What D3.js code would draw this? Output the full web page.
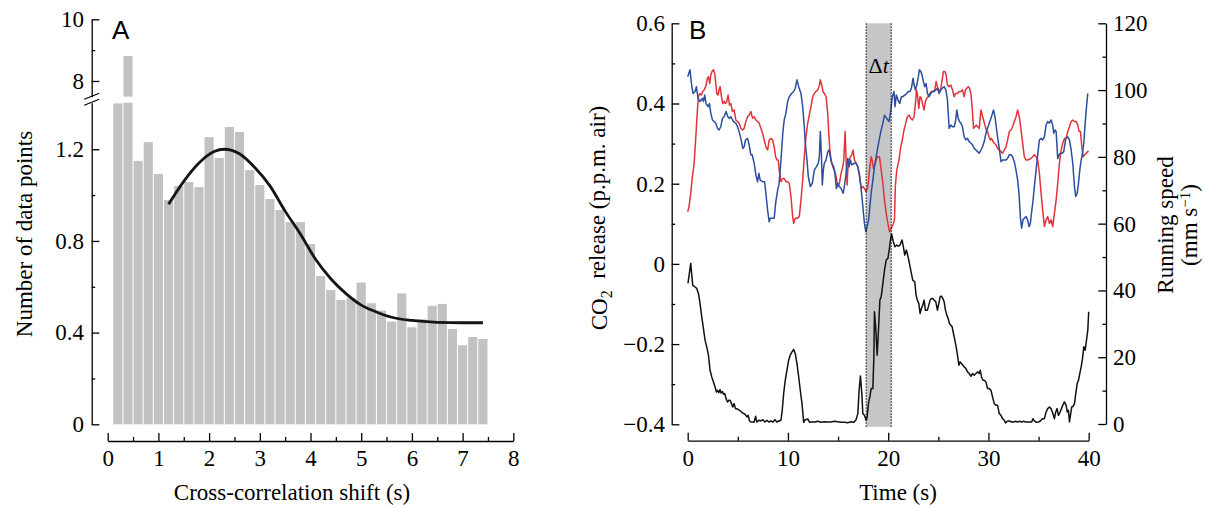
<!DOCTYPE html>
<meta charset="utf-8">
<style>
  body { margin: 0; background: #fff; }
  svg { font-family: "Liberation Serif", "Times New Roman", serif; }
  .axis path, .axis line { stroke: #000; stroke-width: 1.3; }
  .axis text { font-size: 23px; fill: #000; font-family: "Liberation Serif", serif; }
  .title { font-size: 23px; fill: #000; }
  .panel { font-family: "Liberation Sans", Arial, sans-serif; font-size: 26px; }
</style>
<body>
<script src="https://d3js.org/d3.v7.min.js"></script>
<script>

  // ---- panel A: histogram of cross-correlation shifts ----
  const shiftBins = [0.2, 0.4, 0.6, 0.8, 1.0, 1.2, 1.4, 1.6, 1.8, 2.0, 2.2, 2.4, 2.6, 2.8, 3.0, 3.2, 3.4, 3.6, 3.8,
    4.0, 4.2, 4.4, 4.6, 4.8, 5.0, 5.2, 5.4, 5.6, 5.8, 6.0, 6.2, 6.4, 6.6, 6.8, 7.0, 7.2, 7.4];
  const binCounts = [1.40, 8.81, 1.149, 1.231, 1.092, 0.979, 1.040, 1.057, 1.035, 1.253, 1.162, 1.297, 1.275, 1.109,
    1.044, 0.983, 0.935, 0.882, 0.882, 0.786, 0.647, 0.586, 0.542, 0.550, 0.619, 0.528, 0.496, 0.448, 0.571,
    0.423, 0.458, 0.517, 0.525, 0.416, 0.345, 0.381, 0.372];
  const binWidth = 0.2;

  // fitted curve
  const fitShift = [1.2, 1.5, 1.8, 2.1, 2.3, 2.6, 2.9, 3.2, 3.5, 3.8, 4.1, 4.4, 4.7, 5.0, 5.3, 5.6, 6.0, 6.5, 7.0, 7.4];
  const fitCount = [0.96, 1.06, 1.14, 1.19, 1.20, 1.18, 1.12, 1.04, 0.93, 0.83, 0.72, 0.635, 0.57, 0.52, 0.49, 0.467,
    0.453, 0.445, 0.443, 0.443];

  const aTicksLow = [0, 0.4, 0.8, 1.2];
  const aMinorLow = [0.2, 0.6, 1.0];
  const aTicksHigh = [8, 10];
  const aMinorHigh = [9];
  const aTicksX = [0, 1, 2, 3, 4, 5, 6, 7, 8];
  const aMinorX = [0.5, 1.5, 2.5, 3.5, 4.5, 5.5, 6.5, 7.5];

  // ---- panel B: time series ----
  const blueCO2 = [
    [0.00,0.467],[0.23,0.484],[0.37,0.450],[0.53,0.425],[0.73,0.430],[0.87,0.442],[1.03,0.413],[1.23,0.405],[1.47,0.413],
    [1.57,0.405],[1.70,0.421],[1.83,0.400],[2.03,0.392],[2.17,0.400],[2.30,0.376],[2.47,0.359],[2.63,0.355],[2.80,0.351],
    [2.97,0.338],[3.13,0.334],[3.30,0.342],[3.47,0.363],[3.63,0.367],[3.83,0.380],[4.00,0.367],[4.17,0.363],[4.30,0.367],
    [4.57,0.355],[4.80,0.351],[4.97,0.342],[5.13,0.330],[5.30,0.313],[5.50,0.288],[5.63,0.292],[5.77,0.309],[5.97,0.313],
    [6.13,0.297],[6.30,0.272],[6.43,0.272],[6.63,0.251],[6.80,0.222],[6.97,0.205],[7.10,0.226],[7.23,0.209],[7.47,0.205],
    [7.67,0.205],[7.80,0.176],[7.97,0.134],[8.13,0.105],[8.23,0.114],[8.63,0.114],[8.77,0.151],[8.97,0.184],[9.10,0.197],
    [9.23,0.234],[9.37,0.284],[9.50,0.330],[9.63,0.359],[9.80,0.376],[9.97,0.405],[10.13,0.417],[10.37,0.425],[10.57,0.430],
    [10.73,0.438],[10.90,0.459],[11.07,0.442],[11.30,0.425],[11.47,0.392],[11.63,0.342],[11.73,0.301],[11.90,0.259],
    [12.03,0.218],[12.23,0.193],[12.43,0.201],[12.63,0.234],[12.83,0.242],[13.03,0.251],[13.13,0.267],[13.23,0.330],
    [13.33,0.276],[13.43,0.197],[13.53,0.234],[13.63,0.251],[13.80,0.259],[13.97,0.280],[14.10,0.284],[14.23,0.267],
    [14.37,0.251],[14.57,0.242],[14.70,0.222],[14.83,0.188],[14.97,0.201],[15.13,0.193],[15.30,0.188],[15.50,0.176],
    [15.63,0.193],[15.80,0.226],[15.97,0.263],[16.10,0.242],[16.23,0.259],[16.37,0.247],[16.63,0.251],[16.80,0.251],
    [16.97,0.242],[17.13,0.222],[17.30,0.188],[17.47,0.143],[17.63,0.101],[17.77,0.080],[17.90,0.093],[18.07,0.114],
    [18.17,0.143],[18.30,0.176],[18.47,0.209],[18.63,0.242],[18.80,0.267],[18.97,0.292],[19.13,0.313],[19.30,0.334],
    [19.47,0.351],[19.63,0.371],[19.85,0.363],[20.08,0.355],[20.25,0.380],[20.41,0.417],[20.58,0.430],[20.68,0.392],
    [20.81,0.421],[20.98,0.409],[21.15,0.400],[21.31,0.417],[21.45,0.417],[21.65,0.421],[21.85,0.425],[22.01,0.430],
    [22.18,0.430],[22.31,0.438],[22.48,0.463],[22.58,0.446],[22.71,0.434],[22.85,0.446],[23.01,0.467],[23.11,0.484],
    [23.25,0.480],[23.38,0.471],[23.51,0.455],[23.65,0.442],[23.78,0.450],[23.91,0.425],[24.08,0.417],[24.25,0.425],
    [24.41,0.430],[24.58,0.430],[24.75,0.434],[24.91,0.438],[25.08,0.425],[25.25,0.434],[25.41,0.438],[25.58,0.442],
    [25.75,0.434],[25.91,0.409],[26.08,0.338],[26.25,0.346],[26.41,0.342],[26.58,0.342],[26.71,0.355],[26.85,0.384],
    [26.98,0.363],[27.11,0.355],[27.25,0.351],[27.41,0.342],[27.58,0.317],[27.75,0.309],[27.91,0.313],[28.08,0.305],
    [28.25,0.301],[28.41,0.297],[28.58,0.288],[28.75,0.284],[28.91,0.280],[29.08,0.276],[29.25,0.284],[29.41,0.292],
    [29.58,0.305],[29.75,0.326],[29.91,0.338],[30.08,0.351],[30.25,0.363],[30.41,0.376],[30.51,0.384],[30.65,0.367],
    [30.78,0.342],[30.91,0.317],[31.08,0.288],[31.25,0.255],[31.41,0.259],[31.58,0.259],[31.75,0.259],[31.91,0.263],
    [32.08,0.272],[32.25,0.272],[32.41,0.267],[32.58,0.255],[32.75,0.234],[32.91,0.209],[33.05,0.176],[33.18,0.118],
    [33.31,0.089],[33.45,0.110],[33.58,0.114],[33.75,0.118],[33.91,0.110],[34.05,0.093],[34.18,0.101],[34.31,0.130],
    [34.45,0.159],[34.58,0.193],[34.75,0.234],[34.91,0.272],[35.08,0.309],[35.25,0.313],[35.41,0.309],[35.58,0.317],
    [35.75,0.346],[35.91,0.355],[36.08,0.351],[36.25,0.359],[36.41,0.346],[36.51,0.326],[36.65,0.334],[36.75,0.330],
    [36.91,0.263],[37.05,0.272],[37.18,0.276],[37.35,0.276],[37.51,0.280],[37.71,0.313],[37.91,0.317],[38.08,0.309],
    [38.25,0.284],[38.41,0.251],[38.58,0.193],[38.71,0.168],[38.85,0.176],[38.98,0.201],[39.11,0.234],[39.25,0.259],
    [39.38,0.276],[39.51,0.301],[39.65,0.351],[39.78,0.392],[39.91,0.425]
  ];

  const redCO2 = [
    [0.00,0.130],[0.13,0.143],[0.30,0.176],[0.47,0.218],[0.63,0.247],[0.73,0.284],[0.87,0.342],[0.97,0.384],[1.07,0.417],
    [1.20,0.425],[1.37,0.421],[1.50,0.430],[1.63,0.434],[1.80,0.442],[1.97,0.463],[2.07,0.467],[2.20,0.450],[2.30,0.471],
    [2.43,0.480],[2.57,0.484],[2.70,0.475],[2.80,0.450],[2.90,0.425],[3.03,0.421],[3.13,0.434],[3.23,0.442],[3.37,0.417],
    [3.50,0.400],[3.63,0.405],[3.77,0.400],[3.90,0.405],[4.03,0.421],[4.17,0.396],[4.30,0.400],[4.47,0.380],[4.63,0.384],
    [4.80,0.359],[4.97,0.355],[5.13,0.351],[5.30,0.338],[5.47,0.334],[5.63,0.338],[5.80,0.355],[5.97,0.367],[6.13,0.371],
    [6.30,0.380],[6.47,0.363],[6.63,0.367],[6.80,0.359],[6.97,0.355],[7.13,0.351],[7.30,0.338],[7.47,0.326],[7.63,0.309],
    [7.80,0.292],[7.97,0.284],[8.13,0.309],[8.30,0.313],[8.47,0.309],[8.63,0.292],[8.77,0.267],[8.90,0.259],[9.03,0.259],
    [9.13,0.234],[9.30,0.205],[9.47,0.213],[9.63,0.213],[9.80,0.205],[9.97,0.205],[10.13,0.201],[10.30,0.168],[10.47,0.118],
    [10.57,0.101],[10.73,0.114],[10.97,0.114],[11.13,0.118],[11.30,0.159],[11.47,0.209],[11.63,0.267],[11.80,0.317],
    [11.97,0.351],[12.13,0.371],[12.30,0.392],[12.47,0.417],[12.63,0.425],[12.80,0.430],[12.97,0.434],[13.10,0.442],
    [13.23,0.459],[13.37,0.446],[13.50,0.430],[13.63,0.425],[13.80,0.417],[13.97,0.376],[14.07,0.326],[14.17,0.288],
    [14.30,0.259],[14.47,0.242],[14.63,0.234],[14.80,0.218],[14.97,0.193],[15.13,0.201],[15.30,0.226],[15.47,0.242],
    [15.57,0.259],[15.70,0.330],[15.80,0.259],[15.90,0.197],[15.97,0.234],[16.10,0.259],[16.23,0.267],[16.37,0.272],
    [16.50,0.284],[16.63,0.259],[16.80,0.251],[16.97,0.242],[17.13,0.222],[17.30,0.188],[17.47,0.193],[17.63,0.188],
    [17.80,0.180],[17.97,0.193],[18.13,0.234],[18.30,0.267],[18.40,0.259],[18.53,0.238],[18.70,0.251],[18.83,0.263],
    [18.97,0.267],[19.13,0.267],[19.30,0.234],[19.47,0.201],[19.63,0.159],[19.80,0.126],[19.97,0.101],[20.13,0.080],
    [20.30,0.089],[20.47,0.097],[20.63,0.110],[20.71,0.193],[20.85,0.234],[21.08,0.259],[21.25,0.292],[21.41,0.309],
    [21.58,0.334],[21.75,0.351],[21.91,0.367],[22.08,0.371],[22.25,0.363],[22.41,0.359],[22.58,0.367],[22.75,0.409],
    [22.81,0.434],[22.91,0.425],[23.05,0.388],[23.18,0.417],[23.31,0.413],[23.45,0.396],[23.58,0.384],[23.71,0.405],
    [23.85,0.413],[23.98,0.417],[24.15,0.425],[24.31,0.430],[24.48,0.430],[24.65,0.434],[24.78,0.455],[24.91,0.442],
    [25.08,0.430],[25.25,0.438],[25.41,0.463],[25.51,0.480],[25.65,0.480],[25.78,0.471],[25.91,0.446],[26.08,0.442],
    [26.25,0.446],[26.41,0.434],[26.58,0.417],[26.71,0.425],[26.91,0.425],[27.08,0.430],[27.25,0.430],[27.41,0.434],
    [27.58,0.417],[27.71,0.434],[27.85,0.438],[27.98,0.442],[28.11,0.438],[28.25,0.425],[28.38,0.388],[28.51,0.338],
    [28.65,0.342],[28.78,0.346],[28.91,0.342],[29.08,0.338],[29.25,0.384],[29.38,0.371],[29.51,0.359],[29.65,0.346],
    [29.78,0.334],[29.91,0.330],[30.05,0.317],[30.18,0.309],[30.31,0.313],[30.45,0.305],[30.58,0.301],[30.75,0.297],
    [30.91,0.288],[31.08,0.284],[31.25,0.280],[31.41,0.276],[31.58,0.284],[31.75,0.292],[31.91,0.309],[32.08,0.330],
    [32.25,0.334],[32.41,0.342],[32.58,0.355],[32.75,0.367],[32.91,0.384],[33.08,0.367],[33.25,0.334],[33.41,0.301],
    [33.58,0.267],[33.75,0.259],[33.91,0.259],[34.08,0.261],[34.25,0.263],[34.41,0.267],[34.58,0.272],[34.75,0.267],
    [34.91,0.259],[35.08,0.226],[35.25,0.176],[35.41,0.134],[35.58,0.093],[35.75,0.110],[35.91,0.118],[36.08,0.101],
    [36.25,0.110],[36.41,0.093],[36.58,0.126],[36.75,0.159],[36.91,0.201],[37.08,0.251],[37.25,0.284],[37.41,0.301],
    [37.58,0.313],[37.75,0.313],[37.91,0.330],[38.08,0.342],[38.25,0.355],[38.41,0.359],[38.58,0.355],[38.75,0.355],
    [38.91,0.346],[39.05,0.330],[39.18,0.330],[39.31,0.292],[39.45,0.267],[39.58,0.272],[39.75,0.276],[39.91,0.280],
    [40.00,0.280]
  ];

  const runSpeed = [
    [0.03,42.1],[0.30,48.1],[0.50,41.6],[0.70,41.1],[0.90,40.6],[1.07,39.1],[1.23,36.1],[1.40,32.1],[1.57,28.6],[1.73,25.1],
    [1.90,23.1],[2.07,20.6],[2.23,16.1],[2.40,14.1],[2.57,12.6],[2.73,11.1],[2.87,9.6],[2.97,10.1],[3.10,9.4],[3.23,10.3],
    [3.33,9.3],[3.47,9.7],[3.57,8.9],[3.70,9.1],[3.83,7.6],[3.97,6.6],[4.10,7.1],[4.23,7.1],[4.37,6.1],[4.50,5.1],[4.63,6.1],
    [4.77,4.6],[4.90,4.6],[5.03,4.3],[5.17,4.1],[5.30,3.8],[5.47,3.3],[5.63,3.1],[5.80,2.6],[5.90,2.1],[6.03,2.6],[6.17,0.9],
    [6.30,0.6],[6.47,0.6],[6.63,0.6],[6.77,2.3],[6.90,0.6],[7.10,1.1],[7.30,0.9],[7.50,1.3],[7.70,0.6],[7.90,1.1],[8.10,0.6],
    [8.30,0.9],[8.50,0.6],[8.70,1.3],[8.90,0.6],[9.10,0.9],[9.30,1.1],[9.43,4.1],[9.57,9.1],[9.73,13.1],[9.90,16.1],
    [10.07,19.1],[10.23,20.6],[10.40,21.6],[10.57,22.3],[10.73,21.1],[10.90,18.1],[11.07,14.1],[11.23,10.1],[11.40,6.1],
    [11.57,0.5],[11.73,1.3],[11.97,1.5],[12.17,0.5],[12.43,0.6],[12.70,0.6],[12.97,0.8],[13.30,0.5],[13.63,0.7],[13.97,0.6],
    [14.30,0.6],[14.63,0.8],[14.97,0.7],[15.30,0.5],[15.63,0.5],[15.97,0.4],[16.30,0.7],[16.57,0.5],[16.80,1.3],[16.97,3.1],
    [17.10,10.1],[17.23,14.4],[17.37,9.1],[17.47,3.1],[17.63,2.6],[17.80,1.1],[17.90,2.1],[18.03,6.1],[18.17,8.1],
    [18.30,10.6],[18.47,10.6],[18.57,20.1],[18.63,33.6],[18.77,28.1],[18.90,20.6],[19.03,28.1],[19.17,37.1],[19.30,38.1],
    [19.47,42.1],[19.63,46.1],[19.80,49.1],[19.97,49.6],[20.10,52.1],[20.23,55.1],[20.33,57.0],[20.51,54.6],[20.68,53.1],
    [20.85,53.6],[21.01,53.3],[21.18,53.6],[21.38,55.1],[21.51,53.1],[21.65,50.6],[21.81,52.1],[21.98,50.1],[22.15,47.6],
    [22.31,45.1],[22.45,43.1],[22.65,42.6],[22.78,38.6],[22.91,37.1],[23.05,36.1],[23.18,33.1],[23.31,34.6],[23.45,35.6],
    [23.58,37.1],[23.71,34.1],[23.91,34.1],[24.05,35.6],[24.18,37.1],[24.31,37.6],[24.45,37.6],[24.58,37.1],[24.75,36.6],
    [24.91,34.1],[25.05,36.1],[25.18,38.1],[25.31,38.3],[25.45,37.6],[25.58,36.6],[25.71,34.1],[25.85,32.6],[25.98,31.6],
    [26.11,30.1],[26.25,29.6],[26.38,29.1],[26.51,27.1],[26.65,25.1],[26.78,23.1],[26.91,20.6],[27.05,17.6],[27.18,18.6],
    [27.31,18.1],[27.45,17.6],[27.58,17.1],[27.75,16.6],[27.91,15.6],[28.08,15.1],[28.25,14.3],[28.41,15.1],[28.58,14.6],
    [28.75,15.1],[28.91,15.6],[29.08,15.1],[29.18,16.1],[29.31,14.1],[29.45,13.1],[29.58,13.1],[29.75,12.6],[29.91,10.6],
    [30.08,10.6],[30.25,10.1],[30.41,8.1],[30.58,6.1],[30.75,5.6],[30.91,5.6],[31.08,3.1],[31.25,2.6],[31.41,1.6],[31.58,1.1],
    [31.71,0.3],[31.91,0.9],[32.11,0.9],[32.31,0.6],[32.51,0.6],[32.71,0.8],[32.91,0.6],[33.11,0.8],[33.31,0.6],[33.51,0.8],
    [33.71,0.6],[33.91,0.6],[34.11,0.6],[34.31,0.6],[34.45,1.6],[34.58,0.9],[34.78,0.5],[34.98,0.6],[35.18,0.9],[35.38,1.6],
    [35.58,1.6],[35.75,3.6],[35.91,4.6],[36.08,5.1],[36.25,4.6],[36.41,3.3],[36.58,1.6],[36.71,3.6],[36.85,4.6],[36.98,2.6],
    [37.15,3.6],[37.28,4.6],[37.41,5.6],[37.58,6.6],[37.75,5.6],[37.85,3.6],[37.98,4.1],[38.08,0.6],[38.18,2.6],[38.31,5.1],
    [38.45,5.3],[38.58,6.1],[38.71,9.1],[38.85,12.1],[38.98,13.1],[39.11,15.1],[39.25,17.1],[39.38,19.6],[39.51,23.1],
    [39.65,22.1],[39.78,25.1],[39.91,28.1],[40.00,33.6]
  ];

  const deltaT = [17.8, 20.3];
  const bTicksX = [0, 10, 20, 30, 40];
  const bMinorX = [5, 15, 25, 35];
  const bTicksCO2 = [-0.4, -0.2, 0, 0.2, 0.4, 0.6];
  const bMinorCO2 = [-0.3, -0.1, 0.1, 0.3, 0.5];
  const bTicksSpeed = [0, 20, 40, 60, 80, 100, 120];
  const bMinorSpeed = [10, 30, 50, 70, 90, 110];

  const fmt = d3.format("~g");

  const svg = d3.select("body").append("svg")
    .attr("width", 1205)
    .attr("height", 508);

  function minor(g, axis) {
    g.call(axis.tickFormat("")).select(".domain").remove();
  }

  // ===== Panel A =====
  const xA = d3.scaleLinear().domain([0, 8]).range([107.7, 513.3]);
  const yLow = d3.scaleLinear().domain([0, 1.403]).range([424.3, 102.7]);
  const yHigh = d3.scaleLinear().domain([7.49, 10]).range([96.7, 19.3]);
  const lowMax = yLow.domain()[1], highMin = yHigh.domain()[0];

  const gA = svg.append("g");
  const bars = shiftBins.map((s, i) => ({s: s, v: binCounts[i]}));

  gA.selectAll("rect.low").data(bars).join("rect")
    .attr("class", "low")
    .attr("x", d => xA(d.s - binWidth / 2) + 0.5)
    .attr("width", d => xA(d.s + binWidth / 2) - xA(d.s - binWidth / 2) - 1)
    .attr("y", d => yLow(Math.min(d.v, lowMax)))
    .attr("height", d => yLow(0) - yLow(Math.min(d.v, lowMax)))
    .attr("fill", "#c1c2c4");

  gA.selectAll("rect.high").data(bars.filter(d => d.v > highMin)).join("rect")
    .attr("class", "high")
    .attr("x", d => xA(d.s - binWidth / 2) + 0.5)
    .attr("width", d => xA(d.s + binWidth / 2) - xA(d.s - binWidth / 2) - 1)
    .attr("y", d => yHigh(d.v))
    .attr("height", d => yHigh(highMin) - yHigh(d.v))
    .attr("fill", "#c1c2c4");

  const fitLine = d3.line()
    .x((d, i) => xA(fitShift[i]))
    .y(d => yLow(d))
    .curve(d3.curveMonotoneX);

  gA.append("path")
    .attr("d", fitLine(fitCount))
    .attr("fill", "none")
    .attr("stroke", "#151515")
    .attr("stroke-width", 2.8);

  const axAx = 91.7;
  gA.append("g").attr("class", "axis").attr("transform", `translate(${axAx},0)`)
    .call(d3.axisLeft(yLow).tickValues(aTicksLow).tickFormat(fmt).tickSizeInner(-7.7).tickSizeOuter(0).tickPadding(7.7));
  gA.append("g").attr("class", "axis").attr("transform", `translate(${axAx},0)`)
    .call(g => minor(g, d3.axisLeft(yLow).tickValues(aMinorLow).tickSize(-3.5)));
  gA.append("g").attr("class", "axis").attr("transform", `translate(${axAx},0)`)
    .call(d3.axisLeft(yHigh).tickValues(aTicksHigh).tickFormat(fmt).tickSizeInner(-7.7).tickSizeOuter(0).tickPadding(7.7));
  gA.append("g").attr("class", "axis").attr("transform", `translate(${axAx},0)`)
    .call(g => minor(g, d3.axisLeft(yHigh).tickValues(aMinorHigh).tickSize(-3.5)));

  // axis break marks
  const brk = [yHigh.range()[0], yLow.range()[1]];
  [0, 1].forEach(k => {
    gA.append("line")
      .attr("x1", axAx - 7.5).attr("y1", brk[k] + 2.5)
      .attr("x2", axAx + 7.5).attr("y2", brk[k] - 3.5)
      .attr("stroke", "#000").attr("stroke-width", 1.2);
  });

  gA.append("g").attr("class", "axis").attr("transform", "translate(0,441)")
    .call(d3.axisBottom(xA).tickValues(aTicksX).tickFormat(fmt).tickSizeInner(-8).tickSizeOuter(0).tickPadding(8.5));
  gA.append("g").attr("class", "axis").attr("transform", "translate(0,441)")
    .call(g => minor(g, d3.axisBottom(xA).tickValues(aMinorX).tickSize(-4)));

  gA.append("text").attr("class", "title")
    .attr("x", 292).attr("y", 500).attr("text-anchor", "middle")
    .text("Cross-correlation shift (s)");
  gA.append("text").attr("class", "title")
    .attr("transform", "translate(31.5,234) rotate(-90)").attr("text-anchor", "middle")
    .text("Number of data points");
  gA.append("text").attr("class", "panel").attr("x", 112).attr("y", 39).text("A");

  // ===== Panel B =====
  const xB = d3.scaleLinear().domain([0, 40]).range([687.7, 1088.7]);
  const yCO2 = d3.scaleLinear().domain([-0.4, 0.6]).range([424.3, 23.3]);
  const ySpeed = d3.scaleLinear().domain([0, 120]).range([424, 23.3]);

  const gB = svg.append("g");

  gB.append("rect")
    .attr("x", xB(deltaT[0])).attr("width", xB(deltaT[1]) - xB(deltaT[0]))
    .attr("y", yCO2(0.6)).attr("height", yCO2(-0.4) - yCO2(0.6) + 2.5)
    .attr("fill", "#c5c6c8");

  const co2Line = d3.line().x(d => xB(d[0])).y(d => yCO2(d[1]));
  const speedLine = d3.line().x(d => xB(d[0])).y(d => ySpeed(d[1]));

  gB.append("path").attr("d", speedLine(runSpeed))
    .attr("fill", "none").attr("stroke", "#111").attr("stroke-width", 1.5).attr("stroke-linejoin", "round");
  gB.append("path").attr("d", co2Line(redCO2))
    .attr("fill", "none").attr("stroke", "#e2333b").attr("stroke-width", 1.5).attr("stroke-linejoin", "round");
  gB.append("path").attr("d", co2Line(blueCO2))
    .attr("fill", "none").attr("stroke", "#2b4e9e").attr("stroke-width", 1.5).attr("stroke-linejoin", "round");

  deltaT.forEach(t => {
    gB.append("line")
      .attr("x1", xB(t)).attr("x2", xB(t))
      .attr("y1", yCO2(0.6)).attr("y2", yCO2(-0.4) + 2.5)
      .attr("stroke", "#000").attr("stroke-width", 1).attr("stroke-dasharray", "1.5,1.5");
  });

  const dt = gB.append("text").attr("x", xB((deltaT[0] + deltaT[1]) / 2)).attr("y", 73)
    .attr("text-anchor", "middle").style("font-size", "22px");
  dt.append("tspan").text("\u0394");
  dt.append("tspan").attr("font-style", "italic").text("t");

  gB.append("g").attr("class", "axis").attr("transform", "translate(671.7,0)")
    .call(d3.axisLeft(yCO2).tickValues(bTicksCO2).tickFormat(fmt).tickSizeInner(-7.7).tickSizeOuter(0).tickPadding(6.7));
  gB.append("g").attr("class", "axis").attr("transform", "translate(671.7,0)")
    .call(g => minor(g, d3.axisLeft(yCO2).tickValues(bMinorCO2).tickSize(-3.5)));

  gB.append("g").attr("class", "axis").attr("transform", "translate(1106,0)")
    .call(d3.axisRight(ySpeed).tickValues(bTicksSpeed).tickFormat(fmt).tickSizeInner(-7.7).tickSizeOuter(0).tickPadding(7));
  gB.append("g").attr("class", "axis").attr("transform", "translate(1106,0)")
    .call(g => minor(g, d3.axisRight(ySpeed).tickValues(bMinorSpeed).tickSize(-3.5)));

  gB.append("g").attr("class", "axis").attr("transform", "translate(0,440.7)")
    .call(d3.axisBottom(xB).tickValues(bTicksX).tickFormat(fmt).tickSizeInner(-8).tickSizeOuter(0).tickPadding(8.5));
  gB.append("g").attr("class", "axis").attr("transform", "translate(0,440.7)")
    .call(g => minor(g, d3.axisBottom(xB).tickValues(bMinorX).tickSize(-4)));

  gB.append("text").attr("class", "title")
    .attr("x", 898).attr("y", 500).attr("text-anchor", "middle")
    .text("Time (s)");

  const co2Title = gB.append("text").attr("class", "title")
    .attr("transform", "translate(607,218) rotate(-90)").attr("text-anchor", "middle");
  co2Title.append("tspan").text("CO");
  co2Title.append("tspan").attr("dy", "0.3em").style("font-size", "16px").text("2");
  co2Title.append("tspan").attr("dy", "-0.3em").text("\u00a0 release (p.p.m. air)");

  gB.append("text").attr("class", "title")
    .attr("transform", "translate(1173,225) rotate(-90)").attr("text-anchor", "middle")
    .text("Running speed");
  const unitTitle = gB.append("text").attr("class", "title")
    .attr("transform", "translate(1197,225) rotate(-90)").attr("text-anchor", "middle");
  unitTitle.append("tspan").text("(mm s");
  unitTitle.append("tspan").attr("dy", "-0.45em").style("font-size", "15px").text("\u22121");
  unitTitle.append("tspan").attr("dy", "0.3em").text(")");

  gB.append("text").attr("class", "panel").attr("x", 689).attr("y", 39).text("B");
</script>
